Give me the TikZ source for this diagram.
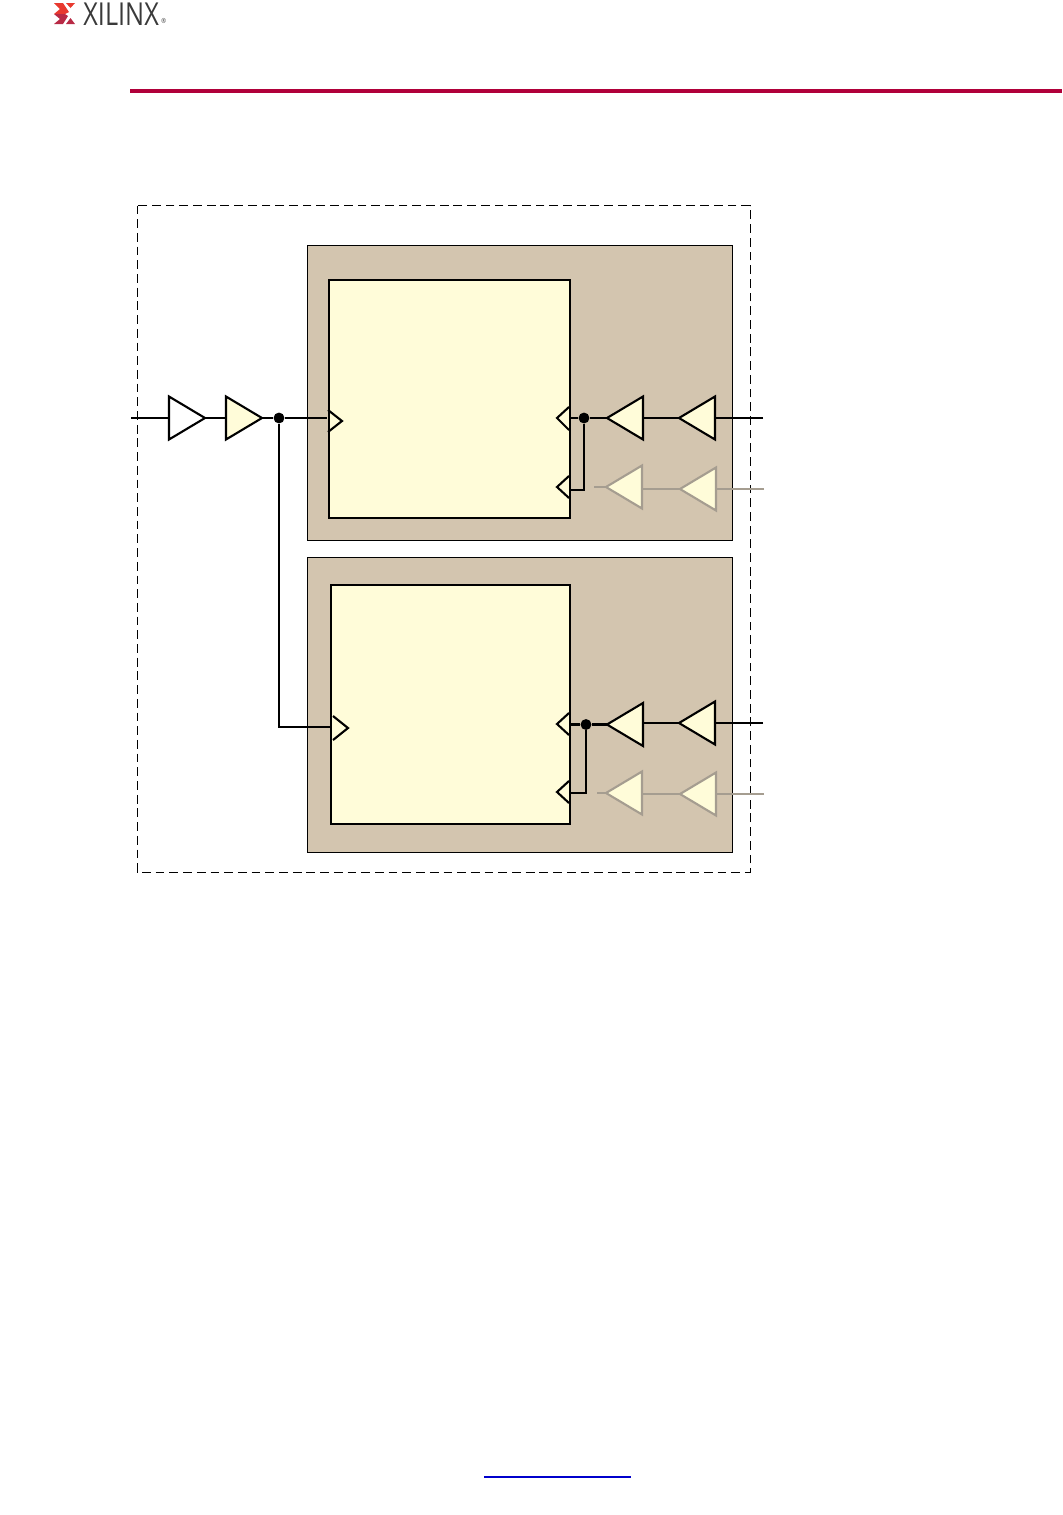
\documentclass[tikz,border=0pt]{standalone}
\usepackage{fontspec}
\usepackage{xcolor}
\newfontfamily\logofont[FakeStretch=0.8]{Open Sans}
\usetikzlibrary{shapes.geometric}
\definecolor{XlxRule}{HTML}{B0003A}
\definecolor{XlxRed}{HTML}{E8392F}
\definecolor{XlxDark}{HTML}{B82A45}
\definecolor{XlxText}{HTML}{3A3A3A}
\definecolor{BankTan}{HTML}{D3C5AF}
\definecolor{BlockYellow}{HTML}{FFFCD9}
\definecolor{UnusedGray}{HTML}{A59D90}
\definecolor{LinkBlue}{HTML}{0000CC}

\begin{document}
\begin{tikzpicture}[
  x=0.02cm, y=-0.02cm,
  wire/.style={draw=black, line width=1.2pt},
  wireoff/.style={draw=UnusedGray, line width=1.2pt},
  bank/.style={draw=black, fill=BankTan, line width=0.45pt, anchor=north west, inner sep=0pt, outer sep=0pt},
  block/.style={draw=black, fill=BlockYellow, line width=1.2pt, anchor=north west, inner sep=0pt, outer sep=0pt},
  buffer/.style={isosceles triangle, isosceles triangle stretches, anchor=apex, inner sep=0pt, outer sep=0pt,
    minimum width=0.86cm, minimum height=0.72cm, line width=1.2pt, miter limit=3},
  bufleft/.style={buffer, shape border rotate=180, draw=black, fill=BlockYellow},
  bufoff/.style={buffer, shape border rotate=180, draw=UnusedGray, fill=BlockYellow},
  tap/.style={circle, fill=black, minimum size=6.2pt, inner sep=0pt},
  clockpin/.style={draw=black, line width=1.2pt},
]
\useasboundingbox (0,0) rectangle (1062,1515);

% ============ page furniture ============
\fill[XlxRed] (54,3) -- (63,3) -- (69,12) -- (65,14) -- (54,14) -- (60,9) -- cycle;
\fill[XlxRed] (66,3) -- (75,3) -- (70.5,8) -- cycle;
\fill[XlxDark] (54,14) -- (65,14) -- (68,16) -- (63,24) -- (54,24) -- (60,19) -- cycle;
\fill[XlxDark] (70.5,18) -- (75,24) -- (66,24) -- cycle;
\node[font=\logofont\fontsize{18}{18}\selectfont, text=XlxText, anchor=west, inner sep=0pt] (logotext) at (83,14) {XILINX};
\node[font=\logofont\fontsize{4}{4}\selectfont, text=XlxText, anchor=west, inner sep=0pt] (logomark) at (161,21) {®};
\fill[XlxRule] (130,89) rectangle (1062,93);
\draw[LinkBlue, line width=0.6pt] (484,1477) -- (631,1477);

% ============ outer boundary and the two banks ============
\draw[draw=black, dash pattern=on 5pt off 2.8pt, line width=0.45pt] (137,205.5) rectangle (750,872);
\node[bank, minimum width=8.5cm, minimum height=5.9cm] (banktop) at (307,245) {};
\node[bank, minimum width=8.5cm, minimum height=5.9cm] (bankbot) at (307,557) {};
\node[block, minimum width=4.82cm, minimum height=4.76cm] (blocktop) at (329,280) {};
\node[block, minimum width=4.78cm, minimum height=4.78cm] (blockbot) at (331,585) {};

% ============ input side ============
\coordinate (clkin) at (131,418);
\coordinate (pinclktop) at (327,418);
\coordinate (pinclkbot) at (332,727);
\node[buffer, draw=black, fill=white] (ibufa) at (205,418) {};
\node[buffer, draw=black, fill=BlockYellow] (ibufb) at (262,418) {};
\node[tap] (taptop) at (279,418) {};
\draw[wire] (clkin) -- (ibufa.lower side);
\draw[wire] (ibufa.apex) -- (ibufb.lower side);
\draw[wire] (ibufb.apex) -- (taptop) -- (pinclktop);
\draw[wire] (taptop) |- (pinclkbot);
\draw[clockpin] (328,410) -- (342,421) -- (328,432);
\draw[clockpin] (333,716) -- (348,728) -- (333,740);

% ============ top bank, right side ============
\node[bufleft] (rbufa) at (607,418) {};
\node[bufleft] (rbufb) at (679,418) {};
\node[tap] (tapa) at (584,418) {};
\coordinate (pada) at (763,418);
\coordinate (pinaa) at (570,418);
\coordinate (pinab) at (570,490);
\draw[wire] (pada) -- (rbufb.lower side);
\draw[wire] (rbufb.apex) -- (rbufa.lower side);
\draw[wire] (rbufa.apex) -- (tapa) -- (pinaa);
\draw[wire] (tapa) |- (pinab);
\draw[clockpin] (569,407) -- (557,418) -- (569,430);
\draw[clockpin] (569,476) -- (557,487) -- (569,498);

\node[bufoff] (offa) at (606,487) {};
\node[bufoff] (offb) at (680,489) {};
\coordinate (offpada) at (764,489);
\coordinate (offenda) at (594,487);
\draw[wireoff] (offpada) -- (offb.lower side);
\draw[wireoff] (offb.apex) -- (offb.apex -| offa.lower side);
\draw[wireoff] (offa.apex) -- (offenda);

% ============ bottom bank, right side ============
\node[bufleft] (sbufa) at (607,724.5) {};
\node[bufleft] (sbufb) at (679,723) {};
\node[tap] (tapb) at (586,724.5) {};
\coordinate (padb) at (763,723);
\coordinate (pinba) at (570,724.5);
\coordinate (pinbb) at (570,793);
\draw[wire] (padb) -- (sbufb.lower side);
\draw[wire] (sbufb.apex) -- (sbufb.apex -| sbufa.lower side);
\draw[wire] (sbufa.apex) -- (tapb) -- (pinba);
\draw[wire] (tapb) |- (pinbb);
\draw[clockpin] (569,713) -- (557,724) -- (569,735);
\draw[clockpin] (569,781) -- (557,792) -- (569,803);

\node[bufoff] (offc) at (606,793) {};
\node[bufoff] (offd) at (680,794) {};
\coordinate (offpadb) at (764,794);
\coordinate (offendb) at (597,793);
\draw[wireoff] (offpadb) -- (offd.lower side);
\draw[wireoff] (offd.apex) -- (offd.apex -| offc.lower side);
\draw[wireoff] (offc.apex) -- (offendb);

\end{tikzpicture}
\end{document}
